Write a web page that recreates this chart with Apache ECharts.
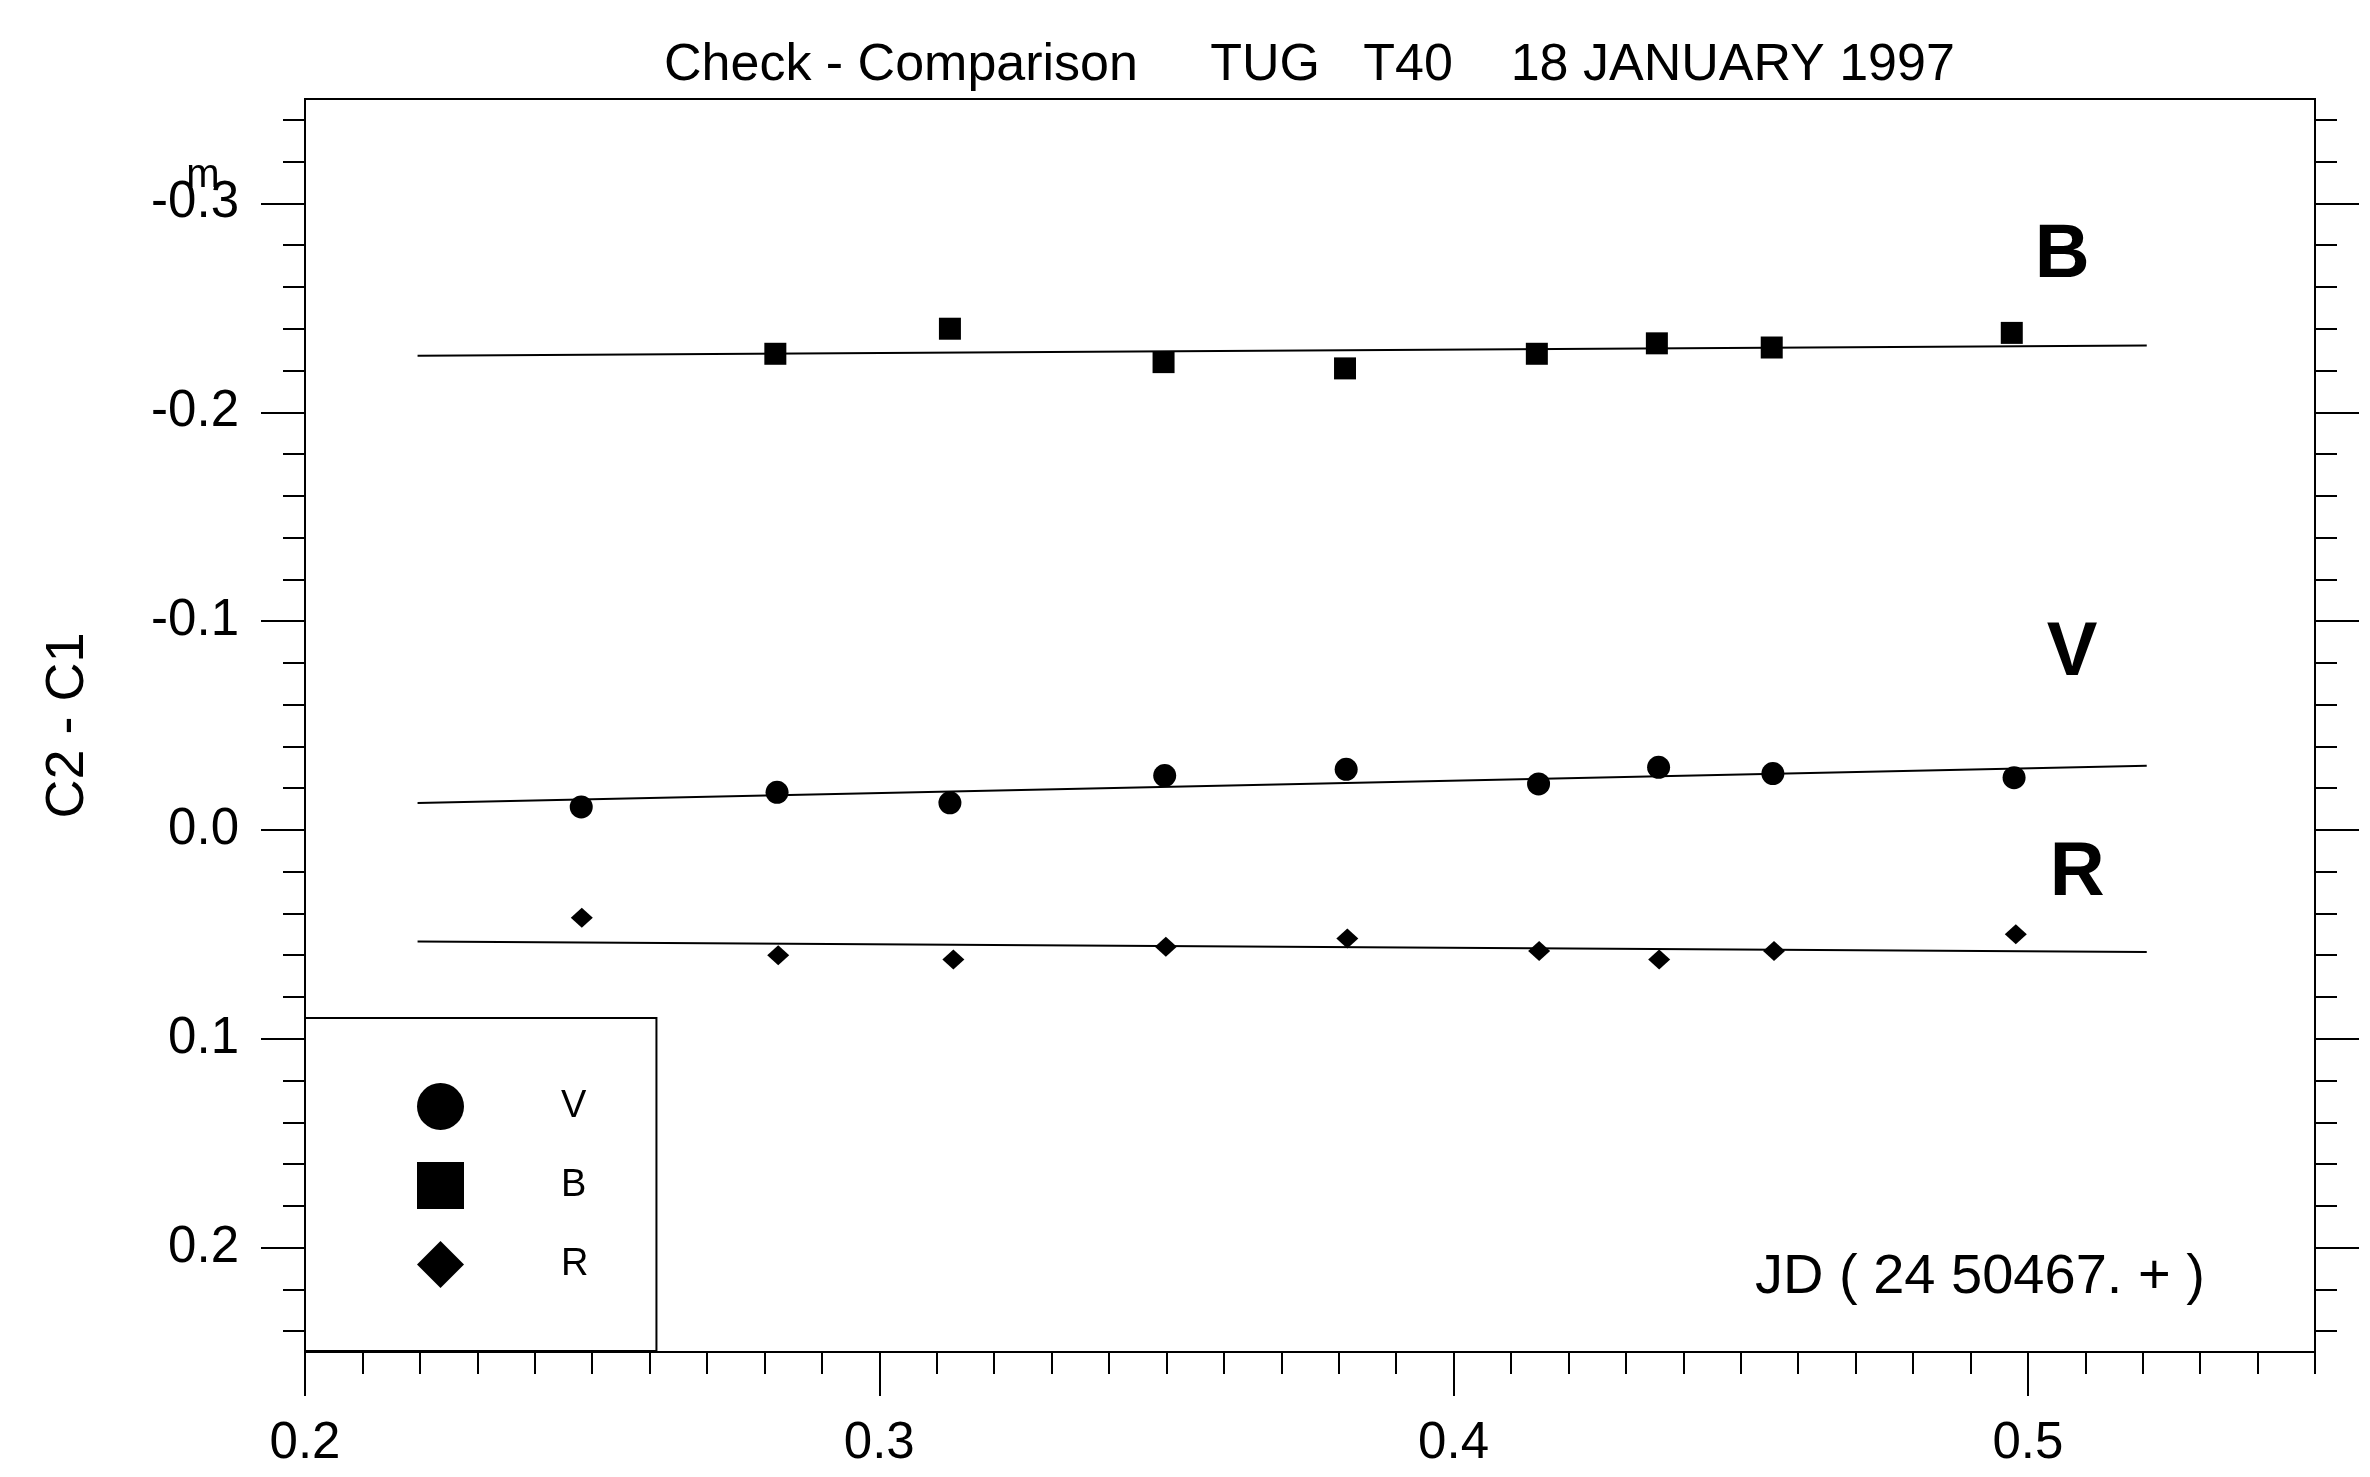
<!DOCTYPE html>
<html lang="en">
<head>
<meta charset="UTF-8">
<title>Check - Comparison  TUG T40  18 JANUARY 1997</title>
<script src="https://cdn.jsdelivr.net/npm/echarts@6.0.0/dist/echarts.min.js"></script>
<style>
    html, body { margin: 0; padding: 0; background: #fff; }
    #chart { width: 2370px; height: 1477px; }
</style>
</head>
<body>
<div id="chart"></div>
<script>
// JD fraction (24 50467. + ) and C2 - C1 in magnitudes
var jdV  = [0.2481, 0.2822, 0.3123, 0.3497, 0.3813, 0.4148, 0.4357, 0.4556, 0.4976];
var magV = [-0.011, -0.018, -0.013, -0.026, -0.029, -0.022, -0.030, -0.027, -0.025];

var jdB  = [0.2819, 0.3123, 0.3495, 0.3811, 0.4145, 0.4354, 0.4554, 0.4972];
var magB = [-0.228, -0.240, -0.224, -0.221, -0.228, -0.233, -0.231, -0.238];

var jdR  = [0.2482, 0.2824, 0.3129, 0.3499, 0.3815, 0.4149, 0.4358, 0.4558, 0.4979];
var magR = [0.042, 0.060, 0.062, 0.056, 0.052, 0.058, 0.062, 0.058, 0.050];

// straight fits, start and end
var fitJD  = [0.2196, 0.5207];
var fitB   = [-0.227, -0.232];
var fitV   = [-0.0129, -0.0307];
var fitR   = [0.0534, 0.0584];

// big band letters next to the fits
var bandNames = ['B', 'V', 'R'];
var bandJD    = [0.5060, 0.5077, 0.5086];
var bandMag   = [-0.275, -0.084, 0.021];

// ticks
var xMajorTicks = [0.2, 0.3, 0.4, 0.5];
var xMinorTicks = [0.21, 0.22, 0.23, 0.24, 0.25, 0.26, 0.27, 0.28, 0.29,
                   0.31, 0.32, 0.33, 0.34, 0.35, 0.36, 0.37, 0.38, 0.39,
                   0.41, 0.42, 0.43, 0.44, 0.45, 0.46, 0.47, 0.48, 0.49,
                   0.51, 0.52, 0.53, 0.54, 0.55];
var yMajorTicks = [-0.3, -0.2, -0.1, 0.0, 0.1, 0.2];
var yMinorTicks = [-0.34, -0.32, -0.28, -0.26, -0.24, -0.22, -0.18, -0.16, -0.14, -0.12,
                   -0.08, -0.06, -0.04, -0.02, 0.02, 0.04, 0.06, 0.08,
                   0.12, 0.14, 0.16, 0.18, 0.22, 0.24];

var font = 'Liberation Sans, Arial, Helvetica, sans-serif';
var gridLeft = 305, gridTop = 99;

function pairs(xs, ys) {
    return xs.map(function (x, i) { return [x, ys[i]]; });
}

function xAxisDef(ticks, len, labels) {
    return {
        type: 'value', min: 0.2, max: 0.55, position: 'bottom',
        axisLine: { show: false, onZero: false },
        splitLine: { show: false },
        axisTick: { show: true, customValues: ticks, length: len, lineStyle: { color: '#000', width: 2 } },
        axisLabel: {
            show: labels, customValues: ticks, margin: 66,
            fontSize: 51, color: '#000', fontFamily: font,
            formatter: function (v) { return v.toFixed(1); }
        }
    };
}

function yAxisDef(pos, ticks, len, labels) {
    return {
        type: 'value', min: -0.35, max: 0.25, inverse: true, position: pos,
        axisLine: { show: false, onZero: false },
        splitLine: { show: false },
        axisTick: { show: true, customValues: ticks, length: len, lineStyle: { color: '#000', width: 2 } },
        axisLabel: {
            show: labels, customValues: ticks, margin: 66,
            fontSize: 51, color: '#000', fontFamily: font,
            formatter: function (v) { return v.toFixed(1); }
        }
    };
}

var yMain = yAxisDef('left', yMajorTicks, 44, true);
yMain.name = 'C2 - C1';
yMain.nameLocation = 'middle';
yMain.nameRotate = 90;
yMain.nameGap = 210;
yMain.nameTextStyle = { fontSize: 54, color: '#000', fontFamily: font };

function fitSeries(name, ys) {
    return {
        name: name, type: 'line', data: pairs(fitJD, ys),
        showSymbol: false, symbol: 'none', silent: true, z: 2,
        lineStyle: { color: '#000', width: 2, opacity: 1 }
    };
}

function pointSeries(name, xs, ys, symbol, size) {
    return {
        name: name, type: 'scatter', data: pairs(xs, ys),
        symbol: symbol, symbolSize: size, z: 3,
        itemStyle: { color: '#000', opacity: 1 }
    };
}

var chart = echarts.init(document.getElementById('chart'));

var option = {
    animation: false,
    backgroundColor: '#fff',
    textStyle: { fontFamily: font, color: '#000' },
    title: {
        text: 'Check - Comparison     TUG   T40    18 JANUARY 1997',
        left: 664, top: 40, padding: 0,
        textStyle: { fontSize: 52, fontWeight: 'normal', color: '#000', fontFamily: font }
    },
    grid: {
        left: gridLeft, top: gridTop, right: 55, bottom: 125,
        containLabel: false, outerBoundsMode: 'none',
        show: true, borderColor: '#000', borderWidth: 2, backgroundColor: 'transparent'
    },
    legend: {
        data: ['V', 'B', 'R'],
        orient: 'vertical', left: gridLeft, top: 1018,
        padding: [65, 68, 63, 112],
        itemWidth: 47, itemHeight: 47, itemGap: 32,
        borderColor: '#000', borderWidth: 2, backgroundColor: '#fff',
        selectedMode: false,
        formatter: function (name) { return '{gap|}' + name; },
        textStyle: { fontSize: 38, color: '#000', fontFamily: font, rich: { gap: { width: 92 } } }
    },
    xAxis: [
        xAxisDef(xMajorTicks, 44, true),
        xAxisDef(xMinorTicks, 22, false)
    ],
    yAxis: [
        yMain,
        yAxisDef('left', yMinorTicks, 22, false),
        yAxisDef('right', yMajorTicks, 44, false),
        yAxisDef('right', yMinorTicks, 22, false)
    ],
    series: [
        fitSeries('B fit', fitB),
        fitSeries('V fit', fitV),
        fitSeries('R fit', fitR),
        pointSeries('V', jdV, magV, 'circle', 23),
        pointSeries('B', jdB, magB, 'rect', 22),
        pointSeries('R', jdR, magR, 'diamond', [22, 20]),
        {
            name: 'band letters', type: 'scatter', silent: true, z: 4,
            data: bandNames.map(function (n, i) { return [bandJD[i], bandMag[i], n]; }),
            symbolSize: 0,
            itemStyle: { color: '#000', opacity: 1 },
            label: {
                show: true, position: 'inside', opacity: 1,
                formatter: function (p) { return p.value[2]; },
                fontSize: 76, fontWeight: 'bold', color: '#000', fontFamily: font
            }
        }
    ]
};

chart.setOption(option);

// axis caption inside the frame and the little magnitude "m" over the decimal point of -0.3
var yTop = chart.convertToPixel({ yAxisIndex: 0 }, -0.3);
chart.setOption({
    graphic: [
        {
            type: 'text', left: 1755, top: 1250,
            style: { text: 'JD ( 24 50467. + )', fontSize: 56, fill: '#000', fontFamily: font }
        },
        {
            type: 'text', x: gridLeft - 102, y: yTop - 27,
            style: { text: 'm', fontSize: 40, fill: '#000', fontFamily: font, align: 'center', verticalAlign: 'middle' }
        }
    ]
});
</script>
</body>
</html>
